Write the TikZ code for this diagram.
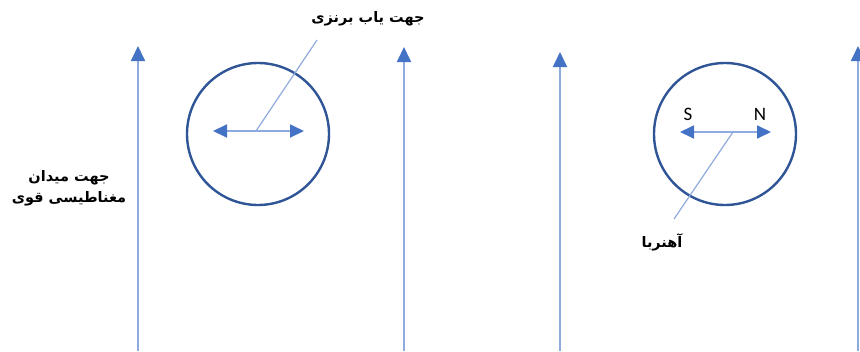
\documentclass[tikz,border=0pt]{standalone}
\usepackage{fontspec}
\usetikzlibrary{arrows.meta}
\TeXXeTstate=1
\newfontfamily\arabicfont[Script=Arabic]{DejaVu Sans}
\newfontfamily\latinfont{Carlito}
\definecolor{arr}{HTML}{4472C4}
\definecolor{shaft}{HTML}{8FAADC}
\definecolor{ring}{HTML}{2F5597}
\tikzset{
  varrow/.style={draw=shaft, line width=1.8pt, -{Triangle[width=14pt,length=15pt,color=arr]}},
  darrow/.style={draw=shaft, line width=1.8pt, {Triangle[width=13pt,length=14pt,color=arr]}-{Triangle[width=13pt,length=14pt,color=arr]}},
  ringnode/.style={circle, draw=ring, line width=2.4pt, minimum size=142pt, inner sep=0pt},
  leader/.style={draw=shaft, line width=1.2pt},
  fatxt/.style={font=\arabicfont\bfseries\fontsize{14.5}{21}\selectfont, inner sep=1pt, align=center},
  poletxt/.style={font=\latinfont\fontsize{19}{20}\selectfont, inner sep=0pt}
}
\begin{document}
\begin{tikzpicture}[x=1pt,y=-1pt]
\useasboundingbox (0,0) rectangle (860,351);
% field arrows
\coordinate (a1s) at (138,351); \coordinate (a1t) at (138,46);
\coordinate (a2s) at (404,351); \coordinate (a2t) at (404,47);
\coordinate (a3s) at (560,351); \coordinate (a3t) at (560,52);
\coordinate (a4s) at (858,351); \coordinate (a4t) at (858,46);
\draw[varrow] (a1s) -- (a1t);
\draw[varrow] (a2s) -- (a2t);
\draw[varrow] (a3s) -- (a3t);
\draw[varrow] (a4s) -- (a4t);
% left circle (brass compass)
\node[ringnode] (c1) at (258,134) {};
\coordinate (d1l) at (213,131); \coordinate (d1r) at (304,131);
\draw[darrow] (d1l) -- (d1r);
\coordinate (p1) at (256,131); \coordinate (q1) at (317,40);
\draw[leader] (p1) -- (q1);
\node[fatxt] (t1) at (368,19) {\beginR جهت یاب برنزی\endR};
% right circle (magnet)
\node[ringnode] (c2) at (725,134) {};
\coordinate (d2l) at (680,132); \coordinate (d2r) at (771,132);
\draw[darrow] (d2l) -- (d2r);
\node[poletxt] (s) at (688,114) {S};
\node[poletxt] (n) at (760,114) {N};
\coordinate (p2) at (733,132); \coordinate (q2) at (674,219);
\draw[leader] (p2) -- (q2);
\node[fatxt] (t2) at (662,242) {\beginR آهنربا\endR};
% left label
\node[fatxt] (t3) at (69,188) {\beginR جهت میدان\endR\\\beginR مغناطیسی قوی\endR};
\end{tikzpicture}
\end{document}
